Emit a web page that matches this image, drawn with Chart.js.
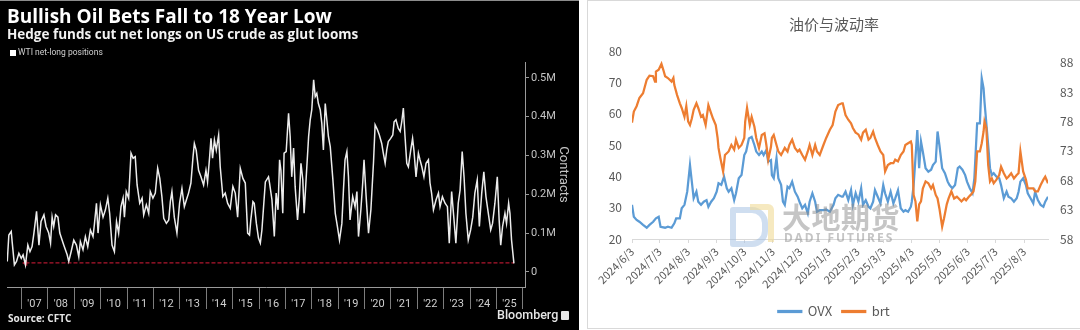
<!DOCTYPE html>
<html>
<head>
<meta charset="utf-8">
<script src="https://cdn.jsdelivr.net/npm/chart.js@4.4.1/dist/chart.umd.min.js"></script>
<style>
  body { margin: 0; width: 1080px; height: 330px; background: #fff; position: relative; overflow: hidden; font-family: "Open Sans", sans-serif; }
  #bbgPanel { position: absolute; left: 0; top: 0; width: 579px; height: 330px; background: #000; border-top: 1px solid #8c8c8c; box-sizing: border-box; }
  #wtiChart { position: absolute; left: 0; top: 0; }
  .bbg { position: absolute; color: #fff; white-space: nowrap; }
  #bTitle { left: 7px; top: 4px; font-size: 19px; font-weight: 700; line-height: 24px; }
  #bSub { left: 7px; top: 25px; font-size: 13.5px; font-weight: 700; line-height: 18px; color: #f2f2f2; }
  #bLegend { left: 10px; top: 46px; font-family: Roboto, sans-serif; font-size: 8.5px; line-height: 12px; color: #cfcfcf; }
  #bLegend i { display: inline-block; width: 6px; height: 6px; background: #fff; margin-right: 2px; vertical-align: -0.5px; }
  #bSource { left: 8px; top: 311px; font-size: 10px; font-weight: 700; line-height: 14px; color: #e6e6e6; }
  #bBrand { left: 497px; top: 307px; font-family: Roboto, sans-serif; font-size: 12.5px; font-weight: 500; line-height: 16px; color: #e6e6e6; }
  #bBrand i { display: inline-block; width: 8px; height: 9px; background: #e6e6e6; border-radius: 1px; margin-left: 3px; vertical-align: -1px; }

  #ddPanel { position: absolute; left: 587px; top: 0; width: 500px; height: 329px; border: 1px solid #d9d9d9; box-sizing: border-box; background: #fff; }
  #volChart { position: absolute; left: 588px; top: 0; }
  .wm { position: absolute; pointer-events: none; white-space: nowrap; }
  #wmBlue { left: 730px; top: 207px; width: 26px; height: 28px; border: 6px solid rgba(160,190,225,0.5); border-radius: 3px 16px 16px 3px; }
  #wmGold { left: 750px; top: 204px; width: 18px; height: 32px; border-top: 6px solid rgba(240,218,150,0.6); border-right: 6px solid rgba(240,218,150,0.6); border-radius: 0 6px 0 0; }
  #wmCn { left: 782px; top: 199px; font-family: "Noto Sans CJK SC", sans-serif; font-weight: 700; font-size: 29px; line-height: 34px; letter-spacing: 0.5px; color: rgba(140,140,140,0.5); }
  #wmEn { left: 784px; top: 231px; font-family: "Noto Sans", sans-serif; font-weight: 700; font-size: 12px; line-height: 14px; letter-spacing: 2px; color: rgba(140,140,140,0.5); }
</style>
</head>
<body>
<div id="bbgPanel"></div>
<canvas id="wtiChart" width="579" height="330"></canvas>
<div class="bbg" id="bTitle">Bullish Oil Bets Fall to 18 Year Low</div>
<div class="bbg" id="bSub">Hedge funds cut net longs on US crude as glut looms</div>
<div class="bbg" id="bLegend"><i></i>WTI net-long positions</div>
<div class="bbg" id="bSource">Source: CFTC</div>
<div class="bbg" id="bBrand">Bloomberg<i></i></div>

<div id="ddPanel"></div>
<canvas id="volChart" width="492" height="328"></canvas>
<div class="wm" id="wmBlue"></div>
<div class="wm" id="wmGold"></div>
<div class="wm" id="wmCn">大地期货</div>
<div class="wm" id="wmEn">DADI FUTURES</div>

<script>
// ---- left chart: WTI net-long positions (thousand contracts), by decimal year
var wtiYear = [2006.46,2006.52,2006.61,2006.65,2006.73,2006.81,2006.90,2006.99,2007.06,2007.15,
  2007.24,2007.32,2007.40,2007.47,2007.57,2007.66,2007.74,2007.85,2007.93,2008.03,
  2008.10,2008.16,2008.22,2008.29,2008.38,2008.45,2008.60,2008.73,2008.79,2008.88,
  2008.98,2009.08,2009.17,2009.23,2009.33,2009.42,2009.51,2009.61,2009.71,2009.76,
  2009.84,2009.90,2009.99,2010.09,2010.18,2010.27,2010.34,2010.43,2010.52,2010.60,
  2010.68,2010.77,2010.85,2010.90,2010.97,2011.06,2011.15,2011.23,2011.31,2011.38,
  2011.48,2011.57,2011.63,2011.73,2011.82,2011.88,2011.98,2012.07,2012.16,2012.24,
  2012.32,2012.39,2012.49,2012.58,2012.64,2012.70,2012.79,2012.89,2012.99,2013.08,
  2013.17,2013.25,2013.33,2013.42,2013.50,2013.55,2013.62,2013.71,2013.80,2013.90,
  2013.99,2014.05,2014.13,2014.18,2014.24,2014.31,2014.38,2014.47,2014.53,2014.63,
  2014.72,2014.81,2014.91,2015.01,2015.10,2015.19,2015.29,2015.39,2015.48,2015.57,
  2015.64,2015.69,2015.77,2015.82,2015.90,2015.98,2016.05,2016.11,2016.24,2016.36,
  2016.40,2016.49,2016.58,2016.65,2016.72,2016.78,2016.83,2016.90,2016.95,
  2017.03,2017.12,2017.18,2017.24,2017.31,2017.37,2017.46,2017.53,2017.59,2017.66,
  2017.71,2017.79,2017.88,2017.94,2018.00,2018.07,2018.13,2018.19,2018.25,2018.32,
  2018.38,2018.44,2018.51,2018.57,2018.63,2018.70,2018.80,2018.89,2018.97,2019.05,
  2019.14,2019.20,2019.26,2019.33,2019.39,2019.45,2019.55,2019.64,2019.71,2019.77,
  2019.86,2019.93,2019.98,2020.06,2020.15,2020.24,2020.34,2020.40,2020.49,2020.56,
  2020.65,2020.71,2020.78,2020.84,2020.90,2020.99,2021.07,2021.12,2021.19,2021.28,
  2021.35,2021.41,2021.47,2021.53,2021.60,2021.66,2021.75,2021.82,2021.87,2021.95,
  2022.04,2022.10,2022.17,2022.25,2022.33,2022.42,2022.48,2022.54,2022.61,2022.71,
  2022.80,2022.86,2022.95,2023.05,2023.14,2023.21,2023.30,2023.39,2023.46,2023.55,
  2023.62,2023.70,2023.77,2023.84,2023.93,2024.02,2024.10,2024.18,2024.27,2024.35,
  2024.44,2024.52,2024.60,2024.69,2024.78,2024.85,2024.94,2025.03,2025.10,2025.16,
  2025.23,2025.32,2025.38,2025.46,2025.51,2025.57,2025.66];
var wtiNetK = [27,95,104,74,18,27,48,35,44,18,
  69,52,65,100,156,69,130,147,117,100,
  74,141,117,147,141,100,69,44,27,52,
  82,69,39,78,57,91,65,108,91,121,
  177,100,173,141,160,190,151,69,52,130,
  100,168,190,141,207,190,306,293,297,224,
  177,190,147,173,151,207,190,203,267,241,
  194,138,125,134,181,207,141,100,177,215,
  168,186,203,229,297,331,314,262,245,224,
  262,232,297,344,293,340,314,353,271,194,
  203,177,164,220,203,141,267,241,229,100,
  95,134,181,177,125,87,74,108,232,245,
  229,186,91,203,160,289,262,151,306,
  310,409,349,245,319,219,134,194,280,237,
  151,245,349,392,418,495,452,460,434,418,
  383,314,434,392,349,323,237,151,117,82,
  125,211,289,310,245,134,194,168,207,91,
  160,229,289,194,100,160,284,379,366,353,
  331,306,280,314,336,344,353,387,392,370,
  362,387,422,353,280,271,314,344,314,245,
  306,289,271,245,280,289,229,203,160,186,
  203,168,194,177,168,74,207,134,74,177,
  211,310,245,151,82,108,141,203,237,117,
  203,258,194,151,108,125,177,245,134,69,
  117,151,125,177,151,82,22];
var lowLineYears = [2007.15, 2025.66];
var lowLineK = 23;
var yearTicks = [2007,2008,2009,2010,2011,2012,2013,2014,2015,2016,2017,2018,2019,2020,2021,2022,2023,2024,2025,2026];
var contractTicks = [0,100000,200000,300000,400000,500000];

// ---- right chart: OVX and Brent, x = days since 2024/6/3
var startDate = '2024/6/3';
var ovxDay = [0,2,5,8,12,16,19,23,26,29,31,36,39,43,46,48,52,54,57,60,
  63,65,67,70,72,75,78,81,83,86,89,92,94,97,100,103,105,108,111,113,
  116,119,122,124,127,130,133,135,138,141,143,146,148,151,152,154,157,159,162,164,
  166,169,171,174,177,180,182,185,188,191,193,196,199,201,204,208,211,215,219,221,
  224,228,
  229,232,235,238,240,243,246,249,251,254,257,259,262,264,267,270,273,275,278,281,
  284,286,289,292,295,297,300,303,304,306,308,310,312,314,316,319,322,325,327,330,
  332,334,337,340,343,345,348,351,354,356,359,362,364,367,370,372,375,378,380,382,
  383,385,387,389,391,393,396,399,401,404,407,409,412,415,418,420,422,425,428,430,
  433,436,438,441,444,447,449,452];
var ovxValues = [30.9,27.1,26.1,25.5,24.5,23.6,24.5,25.5,26.6,27.1,
  23.9,23.6,23.9,23.6,25.0,26.6,26.6,29.8,30.9,35.1,
  43.6,38.3,33.0,35.1,31.9,30.9,31.9,32.4,30.3,31.9,
  33.0,35.1,37.8,37.3,39.9,36.2,35.1,36.2,32.4,34.6,
  39.4,40.4,46.8,47.9,52.1,52.6,50.0,47.9,46.8,47.9,
  46.8,48.4,44.7,45.2,40.4,39.4,45.8,39.4,37.3,31.9,
  30.9,36.7,36.2,38.3,35.1,33.5,31.9,29.8,30.9,28.2,
  31.9,34.6,31.9,28.7,29.2,29.2,29.4,28.7,30.9,33.0,
  34.1,33.5,
  33.5,35.1,32.4,35.6,30.9,34.6,31.9,36.2,30.9,32.4,
  30.3,29.8,31.9,35.6,33.5,31.4,37.2,34.6,31.9,35.1,
  31.4,33.0,35.6,29.8,28.7,29.2,28.7,30.3,31.9,37.2,
  45.8,54.8,42.6,51.1,47.9,42.6,41.5,42.1,43.6,44.7,
  54.3,50.0,42.6,41.0,38.3,37.2,36.2,37.2,42.6,43.1,
  42.1,40.4,38.3,36.2,34.6,39.4,56.9,56.9,71.3,68.1,
  63.8,56.9,50.0,42.6,40.4,41.0,39.9,39.4,37.2,33.0,
  35.1,33.5,33.0,31.9,33.0,35.1,38.3,39.4,37.2,34.6,
  33.0,31.4,35.1,32.4,30.9,30.3,31.9,33.5];
var brtDay = [0,2,5,8,12,16,19,23,25,26,29,32,34,36,39,43,45,46,49,52,
  54,57,59,61,63,65,67,70,72,75,77,80,83,86,88,91,93,94,96,99,
  101,103,105,108,111,113,116,119,122,123,125,128,130,133,135,138,141,144,146,148,
  151,152,154,157,159,162,164,166,169,171,174,177,180,182,185,188,191,193,196,199,
  201,204,208,211,215,218,221,224,228,
  229,232,235,238,240,243,246,249,251,254,257,259,262,264,267,270,273,275,278,281,
  284,286,289,292,295,297,300,303,304,306,308,310,312,314,316,319,322,325,327,330,
  332,334,337,339,342,344,347,350,353,355,358,361,363,366,368,371,373,375,378,380,
  382,383,385,387,389,391,393,396,399,401,404,407,409,412,415,418,420,422,425,428,
  430,433,436,438,441,444,447,449,452];
var brtValues = [77.8,79.7,80.6,82.0,82.8,85.1,85.8,85.7,84.8,86.5,
  86.8,87.8,86.8,85.7,85.4,84.8,85.4,84.2,82.5,81.1,
  80.3,78.8,80.6,78.0,77.4,78.5,80.0,81.1,80.3,78.8,
  79.1,77.4,80.8,79.4,78.5,77.4,75.2,73.5,71.8,69.5,
  72.3,72.6,72.9,74.0,73.2,74.9,73.5,74.0,75.2,78.0,
  80.3,77.4,78.8,77.1,75.2,73.5,75.7,76.0,74.0,71.5,
  73.7,75.2,75.7,74.0,72.9,72.3,72.9,73.5,72.9,74.0,
  74.9,73.5,72.9,73.2,72.3,71.5,72.9,74.0,72.3,74.0,
  72.9,72.3,74.0,75.2,76.6,77.4,79.7,80.8,81.1,
  81.1,79.1,78.3,77.7,76.9,76.1,75.8,74.9,76.1,76.6,
  74.9,75.2,76.3,75.2,74.0,72.9,72.3,69.5,70.6,70.9,
  70.9,71.5,71.2,72.3,72.9,74.0,74.3,74.6,74.0,65.5,
  64.4,61.0,63.9,64.4,66.6,67.8,67.5,66.6,67.2,65.5,
  64.9,63.2,60.1,61.5,63.9,64.9,66.1,64.9,65.2,64.9,
  64.4,64.9,64.6,65.2,65.5,66.1,67.8,72.9,72.9,74.3,
  76.3,78.0,76.9,70.6,67.8,68.3,67.5,68.1,68.9,70.3,
  69.2,68.3,68.6,69.2,68.3,68.9,69.2,72.9,69.5,68.1,
  66.6,66.6,66.6,66.1,66.1,67.2,68.1,68.6,67.5];
var xTickLabels = ['2024/6/3','2024/7/3','2024/8/3','2024/9/3','2024/10/3','2024/11/3','2024/12/3',
  '2025/1/3','2025/2/3','2025/3/3','2025/4/3','2025/5/3','2025/6/3','2025/7/3','2025/8/3'];
var ovxTicks = [20,30,40,50,60,70,80];
var brtTicks = [58,63,68,73,78,83,88];

function checkLen(a, b, name) {
  if (a.length !== b.length) throw new Error(name + ' length ' + a.length + ' vs ' + b.length);
}
checkLen(wtiYear, wtiNetK, 'wti');
checkLen(ovxDay, ovxValues, 'ovx');
checkLen(brtDay, brtValues, 'brt');

function dayNumber(s) {
  var p = s.split('/');
  return Date.UTC(+p[0], +p[1] - 1, +p[2]) / 86400000;
}
var day0 = dayNumber(startDate);
var tickDays = xTickLabels.map(function (s) { return dayNumber(s) - day0; });

function pairs(xs, ys, k) {
  return xs.map(function (x, i) { return { x: x, y: ys[i] * (k || 1) }; });
}

function drawWti() {
  var ctx = document.getElementById('wtiChart').getContext('2d');
  new Chart(ctx, {
    type: 'line',
    data: {
      datasets: [{
        label: 'WTI net-long positions',
        data: pairs(wtiYear, wtiNetK, 1000),
        borderColor: '#ececec',
        borderWidth: 1.5,
        pointRadius: 0,
        tension: 0
      }, {
        label: 'low',
        data: lowLineYears.map(function (x) { return { x: x, y: lowLineK * 1000 }; }),
        borderColor: '#b0172f',
        backgroundColor: '#b0172f',
        borderWidth: 1.3,
        borderDash: [4, 2],
        pointStyle: 'triangle',
        pointRadius: [3.5, 0],
        pointRotation: [-90, 0],
        pointBorderWidth: 0
      }]
    },
    options: {
      responsive: false,
      animation: false,
      layout: { padding: { left: 7, top: 62, right: 0, bottom: 0 } },
      plugins: { legend: { display: false }, tooltip: { enabled: false } },
      scales: {
        x: {
          type: 'linear',
          min: 2006.45,
          max: 2026.08,
          afterBuildTicks: function (s) { s.ticks = yearTicks.map(function (v) { return { value: v }; }); },
          afterFit: function (s) { s.height = 43; },
          grid: { drawOnChartArea: false, tickLength: 22, color: '#7c7c7c' },
          border: { color: '#9a9a9a' },
          ticks: {
            labelOffset: 13,
            padding: -11,
            maxRotation: 0,
            color: '#cfcfcf',
            font: { family: 'Roboto', size: 11 },
            callback: function (v) { return v < 2026 ? "'" + String(v).slice(2) : ''; }
          }
        },
        y: {
          position: 'right',
          min: -39000,
          max: 541000,
          afterBuildTicks: function (s) { s.ticks = contractTicks.map(function (v) { return { value: v }; }); },
          afterFit: function (s) { s.width = 54; },
          grid: { drawOnChartArea: false, tickLength: 4, color: '#9a9a9a' },
          border: { color: '#9a9a9a' },
          ticks: {
            padding: 2,
            color: '#c4c4c4',
            font: { family: 'Roboto', size: 11 },
            callback: function (v) { return v === 0 ? '0' : (v / 1e6) + 'M'; }
          },
          title: { display: true, text: 'Contracts', color: '#c4c4c4', font: { family: 'Roboto', size: 13 }, padding: { top: 8, bottom: 0 } }
        }
      }
    }
  });
}

function drawVol() {
  var ctx = document.getElementById('volChart').getContext('2d');
  var font = 'Noto Sans CJK SC';
  new Chart(ctx, {
    type: 'line',
    data: {
      datasets: [{
        label: 'OVX',
        data: pairs(ovxDay, ovxValues),
        borderColor: '#5B9BD5',
        backgroundColor: '#5B9BD5',
        borderWidth: 2.25,
        pointRadius: 0,
        yAxisID: 'y',
        order: 1
      }, {
        label: 'brt',
        data: pairs(brtDay, brtValues),
        borderColor: '#ED7D31',
        backgroundColor: '#ED7D31',
        borderWidth: 2.25,
        pointRadius: 0,
        yAxisID: 'y2',
        order: 0
      }]
    },
    options: {
      responsive: false,
      animation: false,
      layout: { padding: 0 },
      plugins: {
        title: {
          display: true,
          text: '油价与波动率',
          color: '#595959',
          font: { family: font, size: 15, weight: 'normal' },
          padding: { top: 15, bottom: 18 }
        },
        legend: {
          position: 'bottom',
          labels: {
            boxWidth: 23, boxHeight: 1, padding: 10, color: '#595959', font: { family: font, size: 13 },
            sort: function (a, b) { return a.datasetIndex - b.datasetIndex; }
          }
        },
        tooltip: { enabled: false }
      },
      scales: {
        x: {
          type: 'linear',
          min: 0,
          max: 452,
          afterBuildTicks: function (s) { s.ticks = tickDays.map(function (v) { return { value: v }; }); },
          afterFit: function (s) { s.height = 56; },
          grid: { drawOnChartArea: false, tickLength: 4, color: '#d9d9d9' },
          border: { color: '#d9d9d9' },
          ticks: {
            minRotation: 45,
            maxRotation: 45,
            padding: 2,
            color: '#595959',
            font: { family: font, size: 11 },
            callback: function (v, i) { return xTickLabels[i]; }
          }
        },
        y: {
          position: 'left',
          min: 20,
          max: 80,
          afterBuildTicks: function (s) { s.ticks = ovxTicks.map(function (v) { return { value: v }; }); },
          afterFit: function (s) { s.width = 44; },
          grid: { display: false, drawTicks: false },
          border: { display: false },
          ticks: { padding: 10, color: '#595959', font: { family: font, size: 12 } }
        },
        y2: {
          position: 'right',
          min: 58,
          max: 90,
          afterBuildTicks: function (s) { s.ticks = brtTicks.map(function (v) { return { value: v }; }); },
          afterFit: function (s) { s.width = 32; },
          grid: { display: false, drawTicks: false },
          border: { display: false },
          ticks: { padding: 12, color: '#595959', font: { family: font, size: 12 } }
        }
      }
    }
  });
}

drawWti();
drawVol();
</script>
</body>
</html>
